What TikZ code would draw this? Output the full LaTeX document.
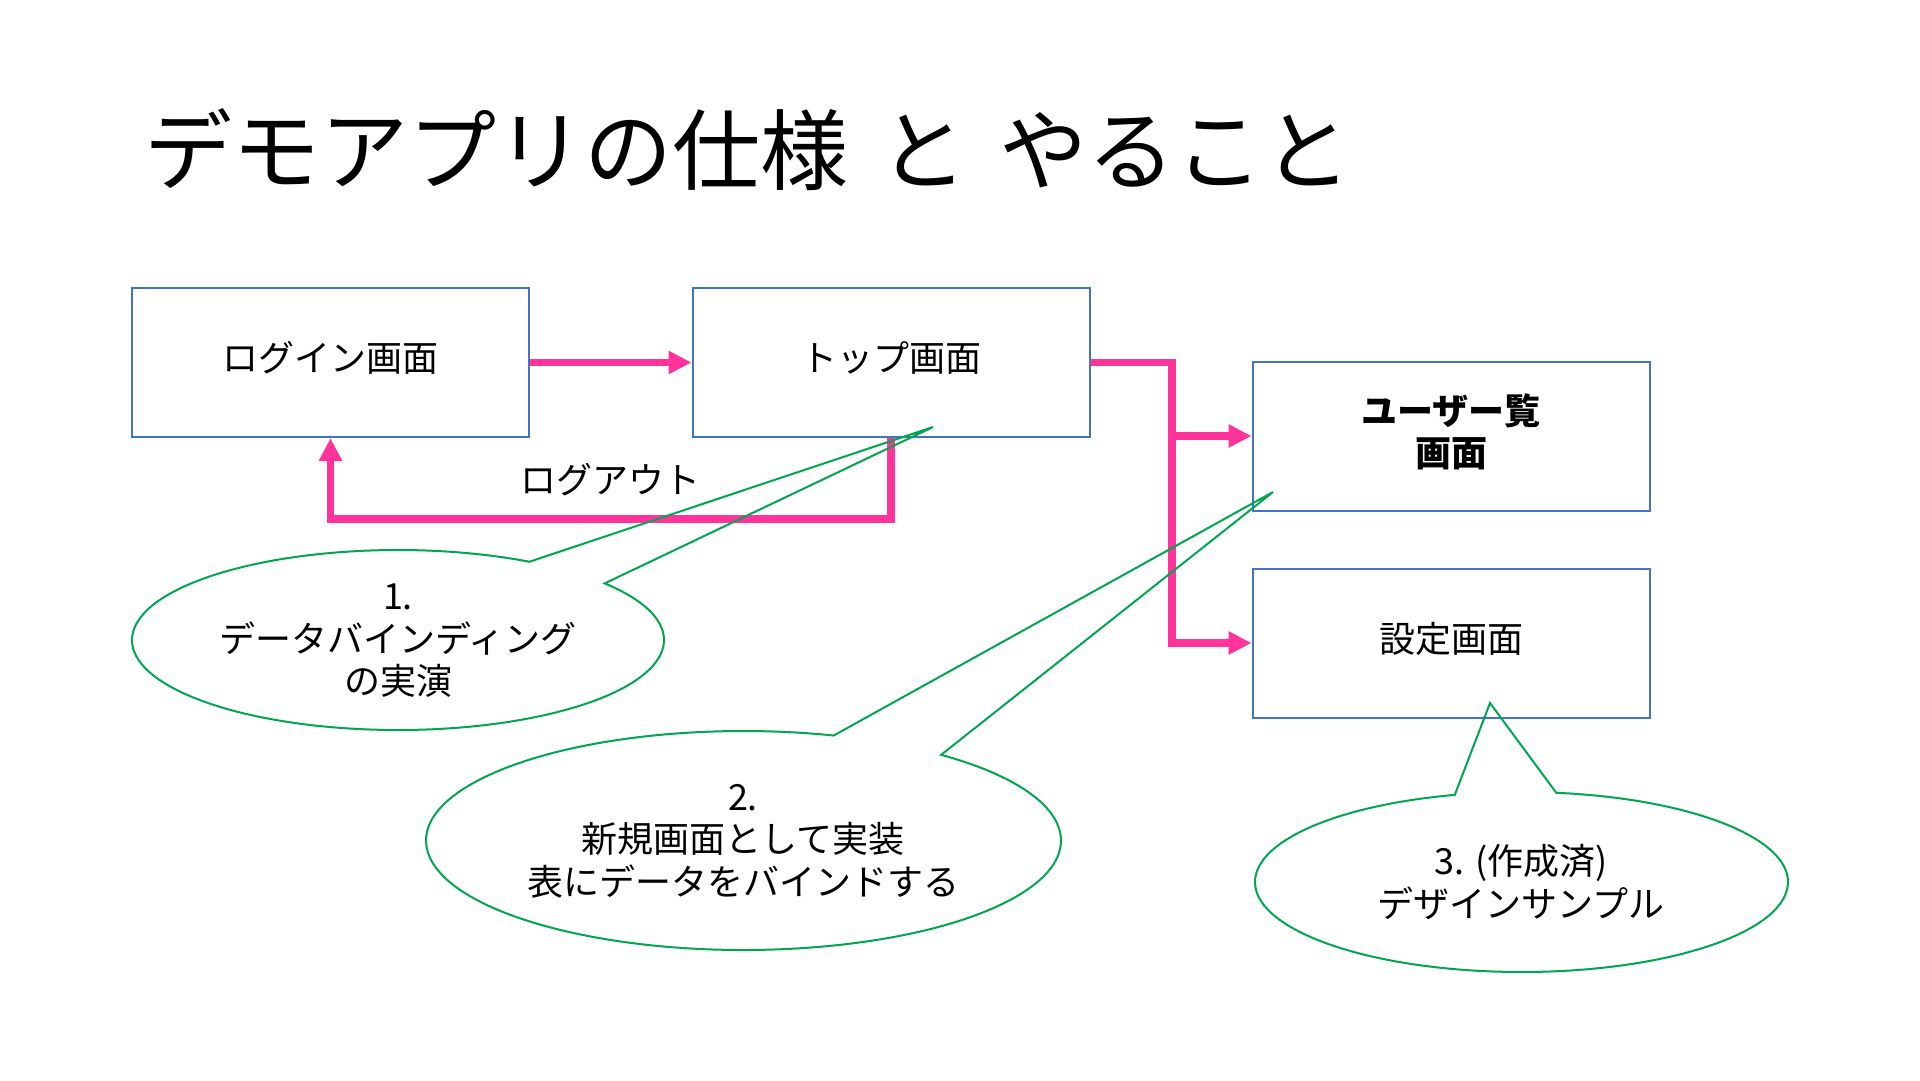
\documentclass[tikz,border=0pt]{standalone}
\usepackage{fontspec}
\setmainfont{Noto Sans CJK JP}
\usetikzlibrary{arrows.meta,calc}
\definecolor{boxblue}{RGB}{68,114,196}
\definecolor{flowpink}{RGB}{255,51,153}
\definecolor{callgreen}{RGB}{0,166,80}
\tikzset{
  screen/.style={draw=boxblue, line width=2pt, minimum width=397pt, minimum height=149pt,
    inner sep=0pt, text depth=12pt, font=\fontsize{36}{43}\selectfont, align=center},
  flow/.style={draw=flowpink, line width=7.5pt, -{Triangle[length=23pt,width=22pt]}},
  callout/.style={draw=callgreen, line width=2pt},
  calltext/.style={font=\fontsize{36}{42.5}\selectfont, align=center, inner sep=0pt},
}
\begin{document}
\begin{tikzpicture}[x=1pt,y=-1pt]
\useasboundingbox[fill=white] (0,0) rectangle (1920,1080);
\node[anchor=west, inner sep=0pt, font=\fontsize{88}{100}\selectfont] (title) at (144,150) {デモアプリの仕様\hspace{0.36em}と\hspace{0.36em}やること};
\node[screen] (login) at (330.5,362.5) {ログイン画面};
\node[screen] (top) at (891,362.5) {トップ画面};
\node[screen, font=\fontsize{36}{42}\selectfont\bfseries] (users) at (1451,436) {ユーザー覧\\画面};
\node[screen] (settings) at (1451,643) {設定画面};
\coordinate (jn) at (1172,643);
\coordinate (jn2) at (1172,436);
\draw[flow] (login.east) -- (top.west);
\draw[flow] (top.east) -| (jn) -- (settings.west);
\draw[flow] (jn2) -- (users.west);
\draw[flow] (top.south) -- ++(0,81) -| (login.south);
\node[font=\fontsize{36}{42}\selectfont] (logout) at (610,480) {ログアウト};
% callouts
\coordinate (c1) at (398,640);
\coordinate (t1) at (933,427);
\draw[callout] (t1) -- ($(c1)+(-39:266 and 90)$) arc[start angle=-39, end angle=299.6, x radius=266, y radius=90] -- cycle;
\coordinate (c2) at (743.5,840.5);
\coordinate (t2) at (1273,492);
\draw[callout] (t2) -- ($(c2)+(-51.5:317.5 and 109.5)$) arc[start angle=-51.5, end angle=286.5, x radius=317.5, y radius=109.5] -- cycle;
\coordinate (c3) at (1521.5,882);
\coordinate (t3) at (1490,703);
\draw[callout] (t3) -- ($(c3)+(-82.5:266.5 and 90)$) arc[start angle=-82.5, end angle=255.5, x radius=266.5, y radius=90] -- cycle;
\node[calltext] (ct1) at (398,641) {1.\\データバインディング\\の実演};
\node[calltext] (ct2) at (743,841) {2.\\新規画面として実装\\表にデータをバインドする};
\node[calltext] (ct3) at (1521,882) {3. (作成済)\\デザインサンプル};
\end{tikzpicture}
\end{document}
